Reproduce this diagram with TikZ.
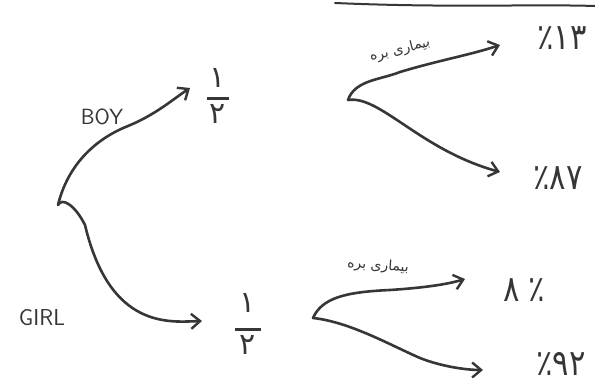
\documentclass[tikz,border=0pt]{standalone}
\usepackage{fontspec}
\setmainfont{DejaVu Sans}
\newfontfamily\arabicfont[Script=Arabic]{DejaVu Sans}
\TeXXeTstate=1
\usetikzlibrary{arrows.meta}
\definecolor{ink}{HTML}{363636}
\tikzset{
  pen/.style={draw=ink, line width=2.6pt, line cap=round, line join=round},
  arr/.style={pen, -{Straight Barb[length=9pt,width=15pt,line width=2.4pt]}},
  caps/.style={text=ink, font=\sffamily\fontsize{22}{24}\selectfont},
  num/.style={text=ink, font=\arabicfont\fontsize{36}{38}\selectfont, xscale=0.85},
  lab/.style={text=ink, font=\arabicfont\fontsize{14}{15}\selectfont},
  frac/.style={text=ink, font=\arabicfont\fontsize{30}{32}\selectfont, inner sep=1pt, align=center}
}
\begin{document}
\begin{tikzpicture}[x=1pt,y=-1pt]
\fill[white] (0,0) rectangle (595,387);
\useasboundingbox (0,0) rectangle (595,387);
% top pen line
\draw[pen, line width=2pt] (335,3) .. controls (450,8) and (530,4) .. (595,6);
% root and splits
\coordinate (r) at (58,205);
\coordinate (s1) at (348,100);
\coordinate (s2) at (313,318);
% fractions
\node[frac] (f1) at (218,96) {۱\\[-20pt]\rule{22pt}{2.4pt}\\[-8pt]۲};
\node[frac] (f2) at (248,324) {۱\\[-14pt]\rule{26pt}{2.4pt}\\[-8pt]۲};
% labels
\node[caps] (boy) at (102,117) {BOY};
\node[caps, font=\sffamily\fontsize{23}{25}\selectfont] (girl) at (42,318) {GIRL};
% outcomes
\node[num] (o1) at (562,38) {٪۱۳};
\node[num] (o2) at (558,178) {٪۸۷};
\node[num] (o3) at (524,290) {\beginL۸\hspace{10pt}٪\endL};
\node[num] (o4) at (561,364) {٪۹۲};
% arrow end points
\coordinate (e0) at (190,88);
\coordinate (e00) at (202,321);
\coordinate (e1) at (500,45);
\coordinate (e2) at (500,172);
\coordinate (e3) at (465,279);
\coordinate (e4) at (483,370);
% edges
\draw[arr] (r) .. controls (66,172) and (88,142) .. (128,126) .. controls (155,115) and (172,100) .. (e0);
\draw[arr] (r) .. controls (62,197) and (75,205) .. (85,225) .. controls (110,330) and (170,322) .. (e00);
\draw[arr] (s1) .. controls (355,80) and (380,80) .. (400,72) .. controls (440,60) and (470,55) .. (e1);
\draw[arr] (s1) .. controls (380,95) and (420,150) .. (e2);
\draw[arr] (s2) .. controls (322,298) and (345,292) .. (390,290) .. controls (420,288) and (445,285) .. (e3);
\draw[arr] (s2) .. controls (350,322) and (390,345) .. (420,358) .. controls (440,366) and (465,370) .. (e4);
% branch labels
\node[lab, rotate=14] (l1) at (400,50) {\beginR بیماری بره\endR};
\node[lab, rotate=-4] (l2) at (378,266) {\beginR بیماری بره\endR};
\end{tikzpicture}
\end{document}
